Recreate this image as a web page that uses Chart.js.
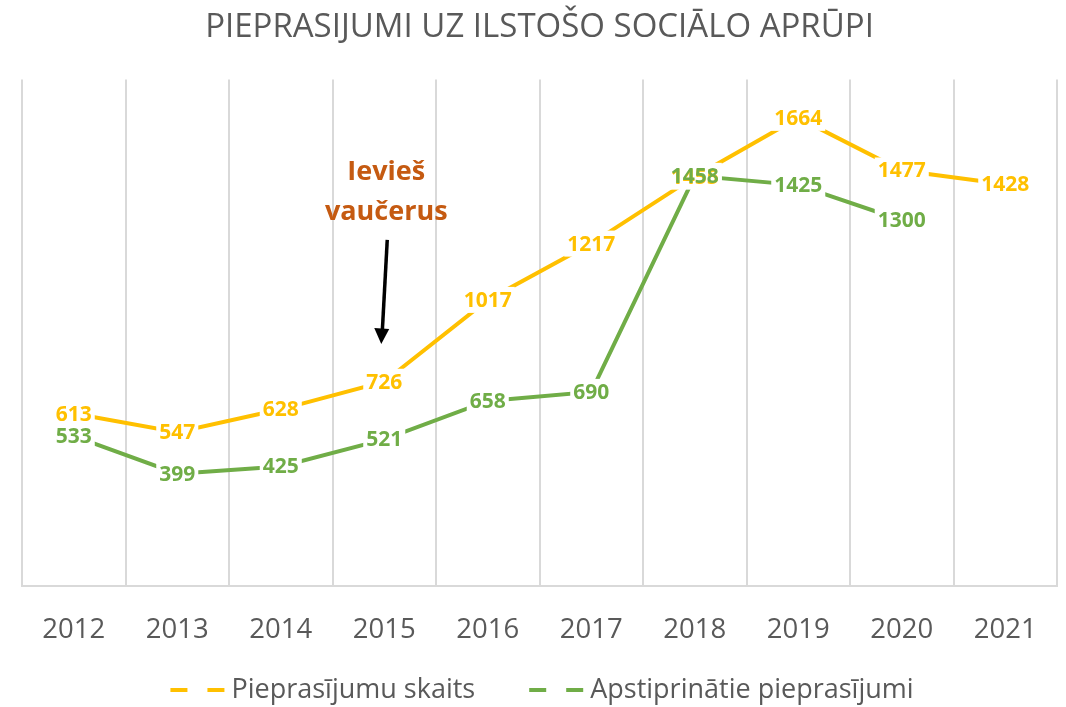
<!DOCTYPE html>
<html>
<head>
<meta charset="utf-8">
<script src="https://cdn.jsdelivr.net/npm/chart.js@4/dist/chart.umd.min.js"></script>
<style>
  html, body { margin: 0; padding: 0; background: #fff; }
  #wrap { width: 1066px; height: 707px; position: relative; }
</style>
</head>
<body>
<div id="wrap"><canvas id="chart"></canvas></div>
<script>
// Chart data
const years = ['2012', '2013', '2014', '2015', '2016', '2017', '2018', '2019', '2020', '2021'];
const requests = [613, 547, 628, 726, 1017, 1217, 1455, 1664, 1477, 1428];
const approved = [533, 399, 425, 521, 658, 690, 1458, 1425, 1300, null];
const seriesNames = ['Pieprasījumu skaits', 'Apstiprinātie pieprasījumi'];

// Annotation: where the voucher system was introduced
const noteLines = ['Ievieš', 'vaučerus'];
const noteYear = '2015';

const YELLOW = '#FFC000';
const GREEN = '#70AD47';
const GREY_TEXT = '#595959';
const FONT = '"Open Sans", "Noto Sans", sans-serif';

// data labels centred on each point with a white box behind
const pointLabels = {
  id: 'pointLabels',
  afterDatasetsDraw(chart) {
    const ctx = chart.ctx;
    const items = [];
    chart.data.datasets.forEach((ds, i) => {
      const meta = chart.getDatasetMeta(i);
      meta.data.forEach((pt, j) => {
        const v = ds.data[j];
        if (v == null) return;
        items.push({ x: pt.x, y: pt.y, text: String(v), color: ds.borderColor });
      });
    });
    ctx.save();
    ctx.font = 'bold 21px ' + FONT;
    ctx.textAlign = 'center';
    ctx.textBaseline = 'middle';
    ctx.fillStyle = '#fff';
    // all boxes first, then all texts, so overlapping labels both show
    items.forEach(it => {
      const w = ctx.measureText(it.text).width + 6;
      ctx.fillRect(it.x - w / 2, it.y - 13, w, 26);
    });
    items.forEach(it => {
      ctx.fillStyle = it.color;
      ctx.fillText(it.text, it.x, it.y + 1);
    });
    ctx.restore();
  }
};

// text + arrow annotation, placed with the chart's own scales
const voucherNote = {
  id: 'voucherNote',
  afterDraw(chart) {
    const ctx = chart.ctx;
    const xs = chart.scales.x, ys = chart.scales.y;
    const x = xs.getPixelForValue(years.indexOf(noteYear));
    ctx.save();
    ctx.font = 'bold 27px ' + FONT;
    ctx.fillStyle = '#C55A11';
    ctx.textAlign = 'center';
    ctx.textBaseline = 'middle';
    ctx.fillText(noteLines[0], x + 2, ys.getPixelForValue(1470));
    ctx.fillText(noteLines[1], x + 2, ys.getPixelForValue(1330));
    const top = ys.getPixelForValue(1230), tip = ys.getPixelForValue(860);
    ctx.strokeStyle = '#000';
    ctx.lineWidth = 3.5;
    ctx.beginPath();
    ctx.moveTo(x + 3, top);
    ctx.lineTo(x - 2, tip - 12);
    ctx.stroke();
    ctx.fillStyle = '#000';
    ctx.beginPath();
    ctx.moveTo(x - 3, tip);
    ctx.lineTo(x - 10, tip - 16);
    ctx.lineTo(x + 5, tip - 15);
    ctx.closePath();
    ctx.fill();
    ctx.restore();
  }
};

// bottom legend with Excel-like broken line symbols
const bottomLegend = {
  id: 'bottomLegend',
  afterDraw(chart) {
    const ctx = chart.ctx;
    const symW = 54, symGap = 7, itemGap = 54, y = 690;
    ctx.save();
    ctx.font = '27px ' + FONT;
    ctx.textBaseline = 'middle';
    const items = chart.data.datasets.map(ds => ({
      text: ds.label, color: ds.borderColor, w: ctx.measureText(ds.label).width
    }));
    const total = items.reduce((a, it) => a + symW + symGap + it.w, 0) + itemGap * (items.length - 1);
    let x = chart.width / 2 + 9 - total / 2;
    items.forEach(it => {
      ctx.fillStyle = it.color;
      ctx.fillRect(x, y - 2, 17, 4);
      ctx.fillRect(x + 37, y - 2, 17, 4);
      ctx.fillStyle = GREY_TEXT;
      ctx.fillText(it.text, x + symW + symGap, y);
      x += symW + symGap + it.w + itemGap;
    });
    ctx.restore();
  }
};

new Chart(document.getElementById('chart'), {
  type: 'line',
  data: {
    labels: years,
    datasets: [
      { label: seriesNames[0], data: requests, borderColor: YELLOW, backgroundColor: YELLOW,
        borderWidth: 4, pointRadius: 0, tension: 0 },
      { label: seriesNames[1], data: approved, borderColor: GREEN, backgroundColor: GREEN,
        borderWidth: 4, pointRadius: 0, tension: 0 }
    ]
  },
  options: {
    responsive: true, maintainAspectRatio: false, animation: false,
    layout: { padding: { left: 22, right: 9, top: 0, bottom: 32 } },
    plugins: {
      tooltip: { enabled: false },
      legend: { display: false },
      title: {
        display: true, text: 'PIEPRASIJUMI UZ ILSTOŠO SOCIĀLO APRŪPI',
        color: GREY_TEXT, font: { family: FONT, size: 33, weight: 'normal' },
        padding: { top: 8, bottom: 32 }
      }
    },
    scales: {
      x: {
        offset: true,
        grid: { offset: true, color: '#D9D9D9', lineWidth: 2, drawTicks: false },
        border: { color: '#D9D9D9', width: 2 },
        ticks: { color: GREY_TEXT, font: { family: FONT, size: 27.5 }, padding: 28 }
      },
      y: { display: false, min: 0, max: 1800 }
    }
  },
  plugins: [pointLabels, voucherNote, bottomLegend]
});
</script>
</body>
</html>
